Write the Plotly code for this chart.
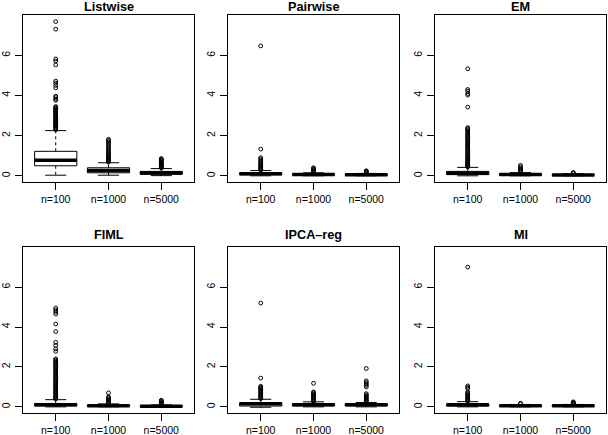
import plotly.graph_objects as go

methods = ["Listwise", "Pairwise", "EM", "FIML", "IPCA\u2013reg", "MI"]
sizes = ["n=100", "n=1000", "n=5000"]

# box statistics per method, for n=100, n=1000, n=5000
lower_whisker = [[0.03, 0.03, 0.01], [0.0, 0.0, 0.0], [0.0, 0.0, 0.0],
                 [0.0, 0.0, 0.0], [-0.02, 0.0, 0.0], [0.0, 0.0, 0.0]]
q1 = [[0.5, 0.15, 0.08], [0.05, 0.03, 0.02], [0.06, 0.03, 0.02],
      [0.05, 0.02, 0.01], [0.04, 0.05, 0.05], [0.04, 0.02, 0.02]]
median = [[0.78, 0.27, 0.14], [0.1, 0.06, 0.05], [0.13, 0.07, 0.04],
          [0.1, 0.05, 0.03], [0.15, 0.1, 0.1], [0.1, 0.05, 0.05]]
q3 = [[1.22, 0.4, 0.22], [0.15, 0.09, 0.08], [0.22, 0.1, 0.07],
      [0.17, 0.09, 0.06], [0.2, 0.15, 0.15], [0.14, 0.08, 0.08]]
upper_whisker = [[2.25, 0.65, 0.36], [0.26, 0.15, 0.12], [0.42, 0.16, 0.1],
                 [0.36, 0.15, 0.1], [0.38, 0.25, 0.22], [0.26, 0.12, 0.12]]

out_listwise = [
    [7.68, 7.3, 5.82, 5.72, 5.52, 4.72, 4.62, 4.5, 4.38, 3.97, 3.9, 3.82, 3.76,
     3.45, 3.41, 3.36, 3.31, 3.27, 3.22, 3.18, 3.13, 3.08, 3.03, 2.98, 2.94, 2.9,
     2.85, 2.8, 2.76, 2.72, 2.67, 2.62, 2.58, 2.54, 2.5, 2.46, 2.42, 2.38, 2.34, 2.3],
    [1.82, 1.76, 1.7, 1.63, 1.56, 1.49, 1.42, 1.35, 1.28, 1.22, 1.16, 1.1, 1.05,
     1.0, 0.95, 0.9, 0.85, 0.8, 0.76, 0.72, 0.68],
    [0.86, 0.82, 0.78, 0.74, 0.7, 0.66, 0.62, 0.58, 0.54, 0.5, 0.47, 0.44, 0.41, 0.39],
]
out_pairwise = [
    [6.47, 1.33, 0.9, 0.85, 0.78, 0.72, 0.66, 0.6, 0.55, 0.5, 0.45, 0.4, 0.36, 0.32, 0.29],
    [0.4, 0.36, 0.32, 0.28, 0.24, 0.2, 0.17],
    [0.25, 0.22, 0.19, 0.16, 0.14],
]
out_em = [
    [5.33, 4.3, 4.22, 4.1, 4.02, 3.42, 2.4, 2.35, 2.3, 2.24, 2.19, 2.13, 2.08, 2.02,
     1.97, 1.91, 1.86, 1.8, 1.75, 1.7, 1.64, 1.59, 1.53, 1.48, 1.43, 1.37, 1.32,
     1.27, 1.21, 1.16, 1.11, 1.06, 1.0, 0.96, 0.91, 0.86, 0.81, 0.77, 0.72, 0.68,
     0.64, 0.6, 0.56, 0.52, 0.49, 0.46, 0.44],
    [0.52, 0.45, 0.38, 0.33, 0.28, 0.24, 0.2],
    [0.16, 0.14, 0.12],
]
out_fiml = [
    [4.95, 4.85, 4.75, 4.65, 4.15, 3.77, 3.23, 3.08, 2.9, 2.78, 2.4, 2.35, 2.29,
     2.24, 2.18, 2.13, 2.07, 2.02, 1.96, 1.91, 1.85, 1.8, 1.74, 1.69, 1.63, 1.58,
     1.52, 1.47, 1.41, 1.36, 1.3, 1.25, 1.2, 1.14, 1.09, 1.04, 0.99, 0.94, 0.89,
     0.84, 0.79, 0.74, 0.69, 0.64, 0.6, 0.55, 0.51, 0.47, 0.43, 0.4],
    [0.7, 0.5, 0.45, 0.4, 0.35, 0.3, 0.26, 0.22, 0.18],
    [0.33, 0.3, 0.26, 0.22, 0.18, 0.14, 0.12],
]
out_ipca = [
    [5.2, 1.44, 1.03, 0.98, 0.93, 0.88, 0.83, 0.78, 0.73, 0.68, 0.63, 0.58, 0.53,
     0.48, 0.44, 0.41],
    [1.18, 0.75, 0.7, 0.65, 0.6, 0.55, 0.5, 0.45, 0.4, 0.35, 0.3, 0.27],
    [1.92, 1.3, 1.22, 1.15, 1.08, 1.0, 0.66, 0.6, 0.55, 0.5, 0.45, 0.4, 0.35, 0.3, 0.26],
]
out_mi = [
    [7.0, 1.05, 0.98, 0.92, 0.75, 0.7, 0.65, 0.6, 0.55, 0.5, 0.45, 0.4, 0.36, 0.32, 0.29],
    [0.18, 0.15],
    [0.25, 0.22, 0.19, 0.16, 0.14],
]
outliers = [out_listwise, out_pairwise, out_em, out_fiml, out_ipca, out_mi]

W, H = 608, 435
ml, mr, mt, mb = 23, 2, 15, 22
pw, ph = W - ml - mr, H - mt - mb
cols_px = [(23, 194), (228, 399), (435, 606)]
rows_px = [(15, 182), (247, 413)]
title_gap = [8.5, 12]

font = "Liberation Sans, Arial, Helvetica, sans-serif"
bw, sw = 0.4, 0.2

fig = go.Figure()
layout = {}
annotations = []
for k, name in enumerate(methods):
    r, c = k // 3, k % 3
    ax = "" if k == 0 else str(k + 1)
    xa, ya = "x" + ax, "y" + ax
    bx, by, wx, wy, sx, sy, mx, my, ox, oy = [], [], [], [], [], [], [], [], [], []
    for i in range(3):
        p = i + 1
        bx += [p - bw, p + bw, p + bw, p - bw, p - bw, None]
        by += [q1[k][i], q1[k][i], q3[k][i], q3[k][i], q1[k][i], None]
        wx += [p, p, None, p, p, None]
        wy += [q3[k][i], upper_whisker[k][i], None, q1[k][i], lower_whisker[k][i], None]
        sx += [p - sw, p + sw, None, p - sw, p + sw, None]
        sy += [upper_whisker[k][i]] * 2 + [None] + [lower_whisker[k][i]] * 2 + [None]
        mx += [p - bw, p + bw, None]
        my += [median[k][i]] * 2 + [None]
        ox += [p] * len(outliers[k][i])
        oy += outliers[k][i]
    fig.add_trace(go.Scatter(x=wx, y=wy, mode="lines", xaxis=xa, yaxis=ya,
                             line=dict(color="black", width=1, dash="3px,3px")))
    fig.add_trace(go.Scatter(x=sx, y=sy, mode="lines", xaxis=xa, yaxis=ya,
                             line=dict(color="black", width=1)))
    fig.add_trace(go.Scatter(x=bx, y=by, mode="lines", xaxis=xa, yaxis=ya,
                             line=dict(color="black", width=1)))
    fig.add_trace(go.Scatter(x=mx, y=my, mode="lines", xaxis=xa, yaxis=ya,
                             line=dict(color="black", width=3.5)))
    fig.add_trace(go.Scatter(x=ox, y=oy, mode="markers", xaxis=xa, yaxis=ya,
                             marker=dict(symbol="circle-open", size=3.8, color="black",
                                         line=dict(width=1))))

    x0, x1 = cols_px[c]
    y0, y1 = rows_px[r]
    dx = [(x0 - ml) / pw, (x1 - ml) / pw]
    dy = [(H - mb - y1) / ph, (H - mb - y0) / ph]
    layout["xaxis" + ax] = dict(
        domain=dx, anchor=ya, range=[0.38, 3.62], tickvals=[1, 2, 3], ticktext=sizes,
        showline=True, mirror=True, linecolor="black", linewidth=1,
        ticks="outside", ticklen=7, tickcolor="black", showgrid=False, zeroline=False,
        ticklabelstandoff=0, tickfont=dict(family=font, size=10.5, color="black"))
    layout["yaxis" + ax] = dict(
        domain=dy, anchor=xa, range=[-0.308, 8.008], tickvals=[0, 2, 4, 6],
        showline=True, mirror=True, linecolor="black", linewidth=1,
        ticks="outside", ticklen=7, tickcolor="black", showgrid=False, zeroline=False,
        tickangle=-90, ticklabelstandoff=1,
        tickfont=dict(family=font, size=10.5, color="black"))
    annotations.append(dict(
        text="<b>" + name + "</b>", x=(dx[0] + dx[1]) / 2, y=dy[1], xref="paper",
        yref="paper", xanchor="center", yanchor="middle", yshift=title_gap[r],
        showarrow=False, font=dict(family=font, size=12.7, color="black")))

fig.update_layout(
    width=W, height=H, margin=dict(l=ml, r=mr, t=mt, b=mb, autoexpand=False),
    paper_bgcolor="white", plot_bgcolor="white", showlegend=False,
    annotations=annotations, **layout)
# the page body has a default 8px margin; drop it so the figure fills the window
fig.write_html("out.html", config={"displayModeBar": False},
               post_script="document.body.style.margin='0';")
